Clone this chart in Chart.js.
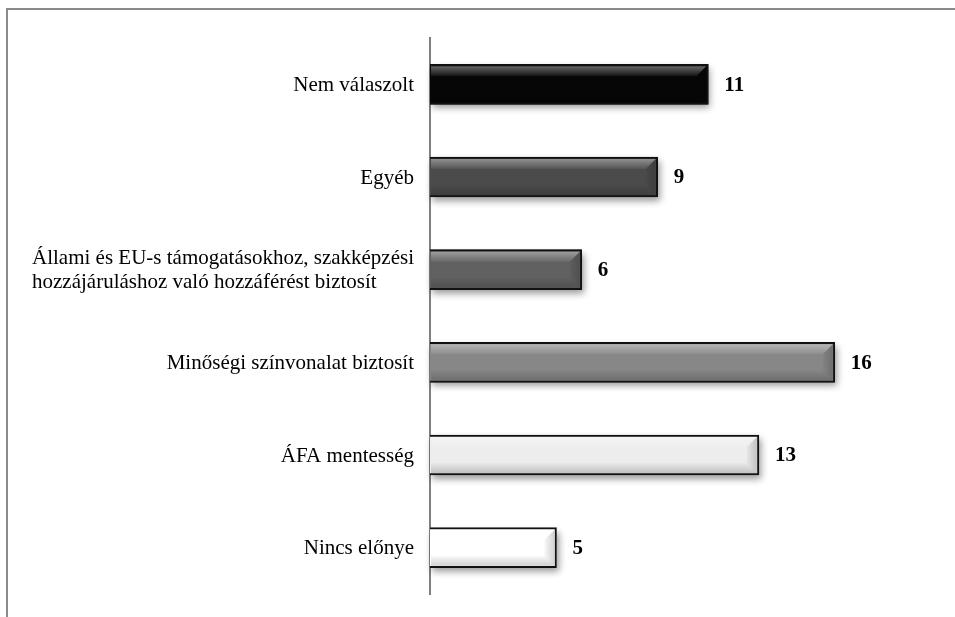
<!DOCTYPE html>
<html>
<head>
<meta charset="utf-8">
<script src="https://cdn.jsdelivr.net/npm/chart.js@4.4.1/dist/chart.umd.min.js"></script>
<style>
    body { margin: 0; background: #fff; }
    #report { display: block; }
</style>
</head>
<body>
<canvas id="report" width="955" height="617"></canvas>
<script>
const categorias = [
    'Nem válaszolt',
    'Egyéb',
    ['Állami és EU-s támogatásokhoz, szakképzési', 'hozzájáruláshoz való hozzáférést biztosít'],
    'Minőségi színvonalat biztosít',
    'ÁFA mentesség',
    'Nincs előnye'
];
const valores = [11, 9, 6, 16, 13, 5];
const cores = ['#060606', '#4b4b4b', '#616161', '#878787', '#ededed', '#ffffff'];

const fonte = '"Liberation Serif", "Times New Roman", serif';

// moldura cinza no topo e à esquerda
const moldura = {
    id: 'moldura',
    beforeDraw(chart) {
        const ctx = chart.ctx;
        ctx.save();
        ctx.strokeStyle = '#8a8a8a';
        ctx.lineWidth = 2;
        ctx.beginPath();
        ctx.moveTo(7, 617);
        ctx.lineTo(7, 9);
        ctx.lineTo(955, 9);
        ctx.stroke();
        ctx.restore();
    }
};

// sombra e efeito de chanfro nas barras, rótulos e valores
const barras3d = {
    id: 'barras3d',
    beforeDatasetsDraw(chart) {
        const ctx = chart.ctx;
        const meta = chart.getDatasetMeta(0);
        // sombra desenhada antes das barras (o Chart.js recorta a barra)
        meta.data.forEach(function (bar, i) {
            ctx.save();
            ctx.shadowColor = 'rgba(0,0,0,0.4)';
            ctx.shadowBlur = 7;
            ctx.shadowOffsetX = 2;
            ctx.shadowOffsetY = 4;
            ctx.fillStyle = cores[i];
            ctx.fillRect(bar.base, bar.y - bar.height / 2, bar.x - bar.base, bar.height);
            ctx.restore();
        });
    },
    afterDatasetsDraw(chart) {
        const ctx = chart.ctx;
        const meta = chart.getDatasetMeta(0);
        meta.data.forEach(function (bar, i) {
            const left = bar.base + 1;
            const right = bar.x - 2;
            const top = bar.y - bar.height / 2 + 2;
            const bottom = bar.y + bar.height / 2 - 2;
            const b = 10;

            ctx.save();
            let g = ctx.createLinearGradient(0, top, 0, top + b);
            g.addColorStop(0, 'rgba(255,255,255,0.38)');
            g.addColorStop(1, 'rgba(255,255,255,0.05)');
            ctx.fillStyle = g;
            ctx.beginPath();
            ctx.moveTo(left, top);
            ctx.lineTo(right, top);
            ctx.lineTo(right - b, top + b);
            ctx.lineTo(left, top + b);
            ctx.closePath();
            ctx.fill();

            g = ctx.createLinearGradient(right, 0, right - b, 0);
            g.addColorStop(0, 'rgba(0,0,0,0.18)');
            g.addColorStop(1, 'rgba(0,0,0,0.03)');
            ctx.fillStyle = g;
            ctx.beginPath();
            ctx.moveTo(right, top);
            ctx.lineTo(right, bottom);
            ctx.lineTo(right - b, bottom - b);
            ctx.lineTo(right - b, top + b);
            ctx.closePath();
            ctx.fill();

            g = ctx.createLinearGradient(0, bottom - b, 0, bottom);
            g.addColorStop(0, 'rgba(0,0,0,0.02)');
            g.addColorStop(1, 'rgba(0,0,0,0.18)');
            ctx.fillStyle = g;
            ctx.beginPath();
            ctx.moveTo(left, bottom - b);
            ctx.lineTo(right - b, bottom - b);
            ctx.lineTo(right, bottom);
            ctx.lineTo(left, bottom);
            ctx.closePath();
            ctx.fill();
            ctx.restore();

            // valor no fim da barra
            ctx.save();
            ctx.fillStyle = '#000';
            ctx.font = 'bold 21px ' + fonte;
            ctx.textAlign = 'left';
            ctx.textBaseline = 'middle';
            ctx.fillText(valores[i], bar.x + 16, bar.y + 1);
            ctx.restore();
        });

        // rótulos das categorias (bloco alinhado à esquerda, encostado no eixo)
        const yScale = chart.scales.y;
        const eixoX = chart.chartArea.left;
        ctx.save();
        ctx.fillStyle = '#000';
        ctx.font = '21px ' + fonte;
        ctx.textBaseline = 'middle';
        ctx.textAlign = 'left';
        categorias.forEach(function (cat, i) {
            const linhas = Array.isArray(cat) ? cat : [cat];
            const largura = Math.max.apply(null, linhas.map(l => ctx.measureText(l).width));
            const yc = yScale.getPixelForValue(i);
            const alt = 24;
            linhas.forEach(function (linha, j) {
                const y = yc + (j - (linhas.length - 1) / 2) * alt + 1;
                ctx.fillText(linha, eixoX - 16 - largura, y);
            });
        });
        ctx.restore();
    }
};

const ctx = document.getElementById('report').getContext('2d');
const report_container = new Chart(ctx, {
    type: 'bar',
    data: {
        labels: categorias,
        datasets: [{
            data: valores,
            backgroundColor: cores,
            borderColor: '#111',
            borderWidth: 2,
            barThickness: 40
        }]
    },
    options: {
        indexAxis: 'y',
        responsive: false,
        animation: false,
        layout: {
            padding: { top: 38, bottom: 23, left: 0, right: 19 }
        },
        scales: {
            x: {
                display: false,
                min: 0,
                max: 20
            },
            y: {
                grid: { display: false },
                border: { display: true, color: '#808080', width: 2 },
                ticks: { display: false },
                afterFit: function (scale) {
                    scale.width = 430;
                }
            }
        },
        plugins: {
            legend: { display: false },
            tooltip: { enabled: false }
        }
    },
    plugins: [moldura, barras3d]
});
</script>
</body>
</html>
